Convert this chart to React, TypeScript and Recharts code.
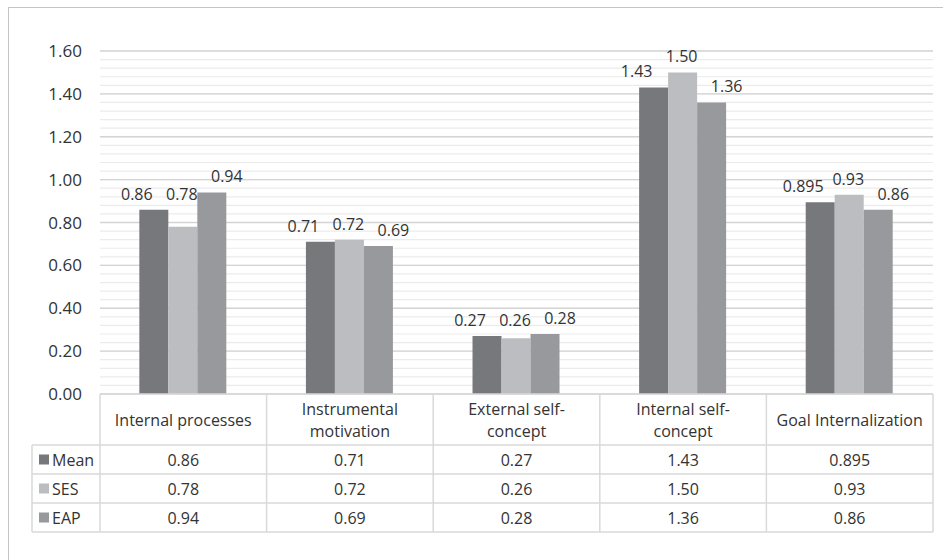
import React from 'react';
import { BarChart, Bar, XAxis, YAxis, CartesianGrid } from 'recharts';

const categories = ['Internal processes', 'Instrumental motivation', 'External self-concept', 'Internal self-concept', 'Goal Internalization'];
const headerLines = [
  ['Internal processes'],
  ['Instrumental', 'motivation'],
  ['External self-', 'concept'],
  ['Internal self-', 'concept'],
  ['Goal Internalization'],
];
const meanValues = [0.86, 0.71, 0.27, 1.43, 0.895];
const sesValues = [0.78, 0.72, 0.26, 1.5, 0.93];
const eapValues = [0.94, 0.69, 0.28, 1.36, 0.86];
const yTicks = [0, 0.2, 0.4, 0.6, 0.8, 1.0, 1.2, 1.4, 1.6];
const minorTicks = Array.from({ length: 41 }, (_, i) => Math.round(i * 4) / 100);

const seriesKeys = ['Mean', 'SES', 'EAP'];
const seriesColors: Record<string, string> = { Mean: '#77787b', SES: '#bcbdc0', EAP: '#98999c' };
const labelDx: Record<string, number> = { Mean: -17, SES: -1, EAP: 15 };

const data = categories.map((name, i) => ({
  name,
  Mean: meanValues[i],
  SES: sesValues[i],
  EAP: eapValues[i],
}));

const W = 943;
const H = 560;
const MARGIN = { top: 51, right: 10, bottom: 0, left: 8 };
const Y_AXIS_W = 92;
const X_AXIS_H = 166;
const PLOT_W = W - MARGIN.left - MARGIN.right - Y_AXIS_W;
const HEADER_H = 51;
const ROW_H = 29;
const LEGEND_LEFT = 32;
const FONT = '"Open Sans", "Noto Sans", sans-serif';
const TEXT = '#333333';
const LINE = '#d9d9d9';

function fmt(v: number) {
  const s = String(v);
  const d = s.includes('.') ? s.split('.')[1].length : 0;
  return v.toFixed(Math.max(2, d));
}

function TableTick(props: any) {
  const { x, y, payload } = props;
  const i: number = payload?.index ?? props.index ?? 0;
  const n = categories.length;
  const colW = PLOT_W / n;
  const left = x - colW / 2;
  const tableBottom = y + HEADER_H + ROW_H * seriesKeys.length;
  const lines = headerLines[i] || [String(payload?.value)];
  const headerMid = y + HEADER_H / 2;
  const lh = 22;
  const elems: any[] = [];

  elems.push(<line key="vl" x1={left} x2={left} y1={y} y2={tableBottom} stroke={LINE} strokeWidth={1.5} />);
  if (i === n - 1) {
    elems.push(<line key="vr" x1={left + colW} x2={left + colW} y1={y} y2={tableBottom} stroke={LINE} strokeWidth={1.5} />);
  }
  lines.forEach((ln, k) => {
    elems.push(
      <text key={'h' + k} x={x} y={headerMid + (k - (lines.length - 1) / 2) * lh} textAnchor="middle" dominantBaseline="central" fontSize={16} fill={TEXT} fontFamily={FONT}>
        {ln}
      </text>
    );
  });
  seriesKeys.forEach((key, r) => {
    const v = (data[i] as any)[key] as number;
    elems.push(
      <text key={'v' + r} x={x} y={y + HEADER_H + ROW_H * r + ROW_H / 2} textAnchor="middle" dominantBaseline="central" fontSize={16} fill={TEXT} fontFamily={FONT}>
        {fmt(v)}
      </text>
    );
  });

  if (i === 0) {
    const plotLeft = left;
    const plotRight = left + colW * n;
    elems.push(<line key="top" x1={plotLeft} x2={plotRight} y1={y} y2={y} stroke={LINE} strokeWidth={1.5} />);
    for (let r = 0; r <= seriesKeys.length; r++) {
      const yy = y + HEADER_H + ROW_H * r;
      elems.push(<line key={'hl' + r} x1={LEGEND_LEFT} x2={plotRight} y1={yy} y2={yy} stroke={LINE} strokeWidth={1.5} />);
    }
    elems.push(<line key="lgl" x1={LEGEND_LEFT} x2={LEGEND_LEFT} y1={y + HEADER_H} y2={tableBottom} stroke={LINE} strokeWidth={1.5} />);
    seriesKeys.forEach((key, r) => {
      const cy = y + HEADER_H + ROW_H * r + ROW_H / 2;
      elems.push(<rect key={'sq' + r} x={LEGEND_LEFT + 7} y={cy - 5} width={10} height={10} fill={seriesColors[key]} />);
      elems.push(
        <text key={'lt' + r} x={LEGEND_LEFT + 20} y={cy} dominantBaseline="central" fontSize={16} fill={TEXT} fontFamily={FONT}>
          {key}
        </text>
      );
    });
  }
  return <g>{elems}</g>;
}

const makeLabel = (key: string) => (p: any) => {
  const x = Number(p.x);
  const y = Number(p.y);
  const w = Number(p.width);
  const h = Number(p.height);
  const v = Number(p.value);
  let top = y;
  if (key === 'SES' && v > 0) {
    const meanV = (data[p.index] as any).Mean as number;
    const meanTop = y + h - (meanV * h) / v;
    top = Math.min(top, meanTop);
  }
  return (
    <text x={x + w / 2 + labelDx[key]} y={top - 10} textAnchor="middle" fontSize={16} fill={TEXT} fontFamily={FONT}>
      {fmt(v)}
    </text>
  );
};

export default function App() {
  return (
    <div style={{ position: 'absolute', left: 0, top: 0, width: W, height: H, overflow: 'hidden', background: '#fff' }}>
      <div
        style={{
          position: 'absolute',
          left: 8,
          top: 7,
          width: 940,
          height: 560,
          borderTop: '1.5px solid #c4c4c4',
          borderLeft: '1.5px solid #c4c4c4',
        }}
      />
      <div style={{ position: 'absolute', left: 0, top: 0 }}>
        <BarChart
          width={W}
          height={H}
          data={data}
          margin={MARGIN}
          barCategoryGap="23.6%"
          barGap={0}
          style={{ fontFamily: FONT }}
        >
          <CartesianGrid vertical={false} yAxisId="minor" stroke="#ebebeb" strokeWidth={1.2} />
          <CartesianGrid vertical={false} stroke="#d4d4d4" strokeWidth={1.4} />
          <XAxis
            dataKey="name"
            height={X_AXIS_H}
            axisLine={false}
            tickLine={false}
            tickSize={0}
            tickMargin={0}
            interval={0}
            tick={(p: any) => <TableTick {...p} />}
          />
          <YAxis
            width={Y_AXIS_W}
            domain={[0, 1.6]}
            ticks={yTicks}
            tickFormatter={(v: number) => v.toFixed(2)}
            axisLine={false}
            tickLine={false}
            tickSize={0}
            tickMargin={18}
            tick={{ fontSize: 17, fill: TEXT, fontFamily: FONT }}
          />
          <YAxis yAxisId="minor" hide type="number" domain={[0, 1.6]} ticks={minorTicks} interval={0} allowDataOverflow />
          {seriesKeys.map((key) => (
            <Bar key={key} dataKey={key} fill={seriesColors[key]} isAnimationActive={false} label={makeLabel(key)} />
          ))}
        </BarChart>
      </div>
    </div>
  );
}
